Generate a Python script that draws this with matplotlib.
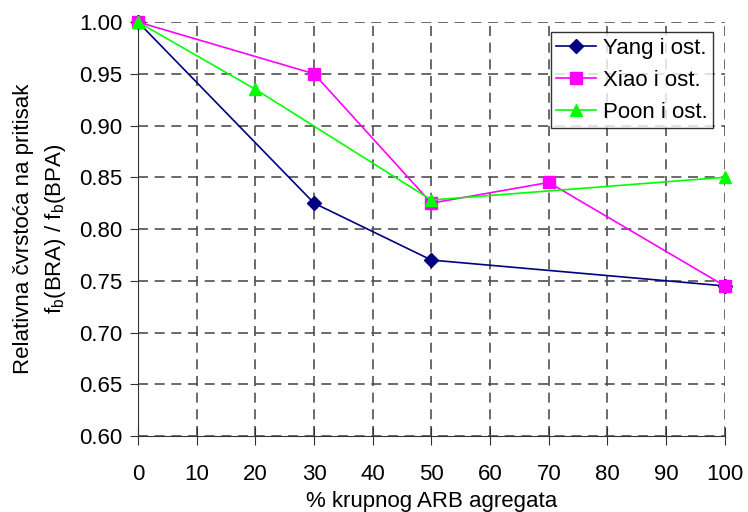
import matplotlib.pyplot as plt

plt.rcParams['font.family'] = ['Liberation Sans', 'DejaVu Sans']

# podaci
yang_x = [0, 30, 50, 100]
yang_y = [1.00, 0.825, 0.77, 0.745]
xiao_x = [0, 30, 50, 70, 100]
xiao_y = [1.00, 0.95, 0.825, 0.845, 0.745]
poon_x = [0, 20, 50, 100]
poon_y = [1.00, 0.935, 0.828, 0.85]

fig = plt.figure(figsize=(7.48, 5.12), dpi=100)
ax = fig.add_axes([0.1845, 0.1484, 0.7845, 0.8086])

ax.plot(yang_x, yang_y, color='#000080', marker='D', markersize=7, lw=1.2, label='Yang i ost.', clip_on=False, zorder=3)
ax.plot(xiao_x, xiao_y, color='#ff00ff', marker='s', markersize=8, lw=1.2, label='Xiao i ost.', clip_on=False, zorder=3)
ax.plot(poon_x, poon_y, color='#00ff00', marker='^', markersize=9, lw=1.2, label='Poon i ost.', clip_on=False, zorder=4)

ax.set_xlim(0, 100)
ax.set_ylim(0.60, 1.00)
ax.set_xticks(range(0, 101, 10))
ax.set_yticks([0.60 + 0.05 * i for i in range(9)])
ax.set_yticklabels(['%.2f' % (0.60 + 0.05 * i) for i in range(9)])

ax.grid(True, color='#505050', linestyle=(0, (6, 4)), linewidth=1.2)
ax.spines['top'].set_visible(False)
ax.spines['right'].set_visible(False)
ax.spines['left'].set_color('#333333')
ax.spines['bottom'].set_color('#333333')
ax.tick_params(axis='x', direction='inout', length=13, labelsize=16, pad=14, color='#333333')
ax.tick_params(axis='y', direction='out', length=6, labelsize=16, pad=5, color='#333333')

ax.set_xlabel('% krupnog ARB agregata', fontsize=16, labelpad=4)
ax.set_ylabel('Relativna čvrstoća na pritisak\nf$_\\mathregular{b}$(BRA) / f$_\\mathregular{b}$(BPA)', fontsize=16,
              labelpad=8, linespacing=1.5)

leg = ax.legend(loc='upper right', bbox_to_anchor=(0.98, 0.976), fontsize=16, frameon=True,
                fancybox=False, edgecolor='black', handlelength=1.8, borderpad=0.25,
                labelspacing=0.5, handletextpad=0.3, borderaxespad=0)
leg.get_frame().set_linewidth(1.0)

plt.savefig('out.png', dpi=100)
